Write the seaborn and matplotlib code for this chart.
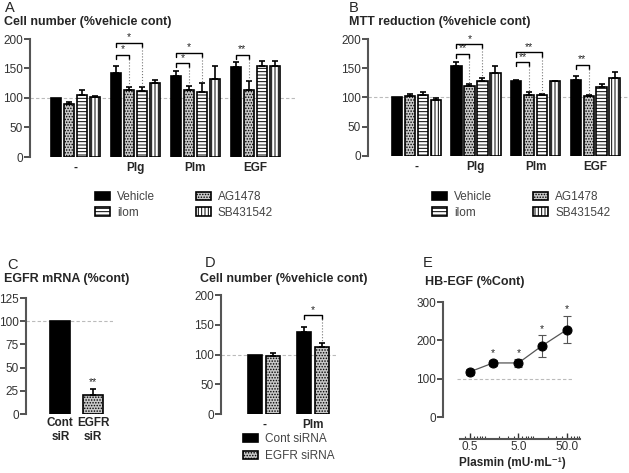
import numpy as np
import pandas as pd
import seaborn as sns
import matplotlib.pyplot as plt
import matplotlib.patches as mpatches
from matplotlib.ticker import FixedLocator, NullFormatter

# ---- data ----
groups = ["-", "Plg", "Plm", "EGF"]
drugs = ["Vehicle", "AG1478", "ilom", "SB431542"]

# panel A, cell number (rows follow drugs)
a_means = [[100, 143, 138, 153], [90, 113, 113, 114], [105, 112, 110, 154], [101, 126, 133, 154]]
a_errs = [[0, 12, 8, 8], [3, 5, 7, 14], [9, 6, 15, 8], [2, 5, 22, 9]]
a_stars = [("Plg", "AG1478", 173, "*"), ("Plg", "ilom", 193, "*"),
           ("Plm", "AG1478", 159, "*"), ("Plm", "ilom", 177, "*"),
           ("EGF", "AG1478", 173, "**")]

# panel B, MTT reduction
b_means = [[100, 154, 128, 130], [102, 120, 105, 102], [104, 129, 104, 118], [96, 142, 128, 133]]
b_errs = [[0, 7, 2, 6], [4, 3, 4, 2], [5, 5, 2, 5], [3, 12, 1, 11]]
b_stars = [("Plg", "AG1478", 175, "**"), ("Plg", "ilom", 191, "*"),
           ("Plm", "AG1478", 160, "**"), ("Plm", "ilom", 177, "**"),
           ("EGF", "AG1478", 156, "**")]

# panel C, EGFR mRNA
c_labels = ["Cont\nsiR", "EGFR\nsiR"]
c_means = [100, 20]
c_errs = [0, 7]

# panel D, cell number with siRNA
d_groups = ["-", "Plm"]
d_sirna = ["Cont siRNA", "EGFR siRNA"]
d_means = [[100, 138], [97, 113]]
d_errs = [[0, 8], [6, 7]]
d_stars = [("Plm", "EGFR siRNA", 166, "*")]

# panel E, HB-EGF vs plasmin
plasmin = [0.5, 1.5, 5.0, 15.0, 50.0]
hb_egf = [118, 141, 141, 185, 228]
hb_err = [8, 8, 10, 28, 36]
hb_stars = ["", "*", "*", "*", "*"]

# ---- style ----
sns.set_theme(style="ticks")
plt.rcParams["font.family"] = ["Liberation Sans", "DejaVu Sans"]
plt.rcParams["hatch.linewidth"] = 0.7

fills = {"Vehicle": ("black", ""), "AG1478": ("#c8c8c8", "......"),
         "ilom": ("white", "-----"), "SB431542": ("white", "|||||"),
         "Cont siRNA": ("black", ""), "EGFR siRNA": ("#c8c8c8", "......")}

TICK_FS = 8.5
TITLE_FS = 9

W, H = 629, 473
fig = plt.figure(figsize=(W / 100, H / 100), dpi=100)


def px_axes(left, right, bottom, top):
    return fig.add_axes([left / W, 1 - bottom / H, (right - left) / W, (bottom - top) / H])


def ftext(x, y, s, **kw):
    fig.text(x / W, 1 - y / H, s, va="center", **kw)


def style_axis(ax, ymax, step):
    sns.despine(ax=ax, bottom=True)
    ax.spines["left"].set_linewidth(1.5)
    ax.spines["left"].set_color("#555555")
    ax.set_ylim(0, ymax)
    ax.set_yticks(range(0, ymax + 1, step))
    ax.tick_params(axis="y", length=4, width=1.2, labelsize=TICK_FS, colors="#333333", pad=1)
    ax.tick_params(axis="x", length=0, labelsize=8.5, pad=3.5)
    for lab in ax.get_xticklabels():
        lab.set_fontweight("bold")
    ax.set_xlabel("")
    ax.set_ylabel("")
    ax.grid(False)
    ax.axhline(100, color="#bbbbbb", lw=0.8, ls=(0, (3, 2)), zorder=0)


def grouped_bars(ax, cats, hues, means, errs, width, gap):
    rows = []
    for h, m in zip(hues, means):
        for c, v in zip(cats, m):
            rows.append({"cat": c, "hue": h, "value": v})
    df = pd.DataFrame(rows)
    sns.barplot(data=df, x="cat", y="value", hue="hue", order=cats, hue_order=hues,
                palette={h: fills[h][0] for h in hues}, width=width, gap=gap,
                errorbar=None, legend=False, edgecolor="black", linewidth=1.2, ax=ax)
    tops = {}
    for h, cont, e in zip(hues, ax.containers, errs):
        color, hatch = fills[h]
        for c, p, err in zip(cats, cont.patches, e):
            p.set_facecolor(color)
            p.set_hatch(hatch)
            x = p.get_x() + p.get_width() / 2
            tops[(c, h)] = (x, p.get_height() + err)
            if err:
                ax.errorbar(x, p.get_height(), yerr=[[0], [err]], fmt="none", ecolor="black",
                            elinewidth=1.2, capsize=2.5, capthick=1.2)
    return tops


def bracket(ax, tops, cat, h1, h2, y, label):
    x1, _ = tops[(cat, h1)]
    x2, t2 = tops[(cat, h2)]
    ax.plot([x1, x1, x2, x2], [y - 7, y, y, y - 7], color="black", lw=1, clip_on=False)
    ax.plot([x2, x2], [y - 7, t2 + 2], color="#777777", lw=0.8, ls=":", clip_on=False)
    ax.text((x1 + x2) / 2, y + 1, label, ha="center", va="bottom", fontsize=7.5)


def legend(handles_order, x, y, colspace, spacing=0.3):
    handles = [mpatches.Patch(facecolor=fills[h][0], hatch=fills[h][1], edgecolor="black",
                              lw=1.2, label=h) for h in handles_order]
    fig.legend(handles=handles, loc="upper left", bbox_to_anchor=(x / W, 1 - y / H),
               ncol=2 if len(handles) > 2 else 1, frameon=False, fontsize=8.5,
               handlelength=1.3, handleheight=0.7, handletextpad=0.6,
               columnspacing=colspace, labelspacing=spacing, borderpad=0,
               borderaxespad=0, labelcolor="#444444")


# ---- A ----
ax = px_axes(30, 295, 157, 39)
tops = grouped_bars(ax, groups, drugs, a_means, a_errs, 0.87, 0.2)
ax.set_xlim(-0.76, 3.66)
style_axis(ax, 200, 50)
for s in a_stars:
    bracket(ax, tops, s[0], "Vehicle", s[1], s[2], s[3])
ftext(5, 8, "A", fontsize=10.5)
ftext(4, 22, "Cell number (%vehicle cont)", fontsize=TITLE_FS, fontweight="bold")
legend(["Vehicle", "ilom", "AG1478", "SB431542"], 95, 191, 3.4)

# ---- B ----
ax = px_axes(368, 628, 156, 39)
tops = grouped_bars(ax, groups, drugs, b_means, b_errs, 0.87, 0.2)
ax.set_xlim(-0.81, 3.55)
style_axis(ax, 200, 50)
for s in b_stars:
    bracket(ax, tops, s[0], "Vehicle", s[1], s[2], s[3])
ftext(349, 8, "B", fontsize=10.5)
ftext(349, 22, "MTT reduction (%vehicle cont)", fontsize=TITLE_FS, fontweight="bold")
legend(["Vehicle", "ilom", "AG1478", "SB431542"], 432, 191, 3.4)

# ---- C ----
ax = px_axes(26, 113, 414, 298)
sns.barplot(x=c_labels, y=c_means, hue=c_labels,
            palette={c_labels[0]: "black", c_labels[1]: fills["EGFR siRNA"][0]},
            width=0.62, errorbar=None, legend=False, edgecolor="black", linewidth=1.2, ax=ax)
ax.set_xlim(-1.05, 1.61)
style_axis(ax, 125, 25)
for p, err in zip([c.patches[0] for c in ax.containers], c_errs):
    if p.get_facecolor()[0] > 0.5:
        p.set_hatch(fills["EGFR siRNA"][1])
    if err:
        x = p.get_x() + p.get_width() / 2
        ax.errorbar(x, p.get_height(), yerr=[[0], [err]], fmt="none", ecolor="black",
                    elinewidth=1.2, capsize=2.5, capthick=1.2)
        ax.text(x, p.get_height() + err + 2, "**", ha="center", va="bottom", fontsize=7.5)
ax.tick_params(axis="x", pad=2)
ftext(7, 265, "C", fontsize=10.5)
ftext(4, 279, "EGFR mRNA (%cont)", fontsize=TITLE_FS, fontweight="bold")

# ---- D ----
ax = px_axes(221, 337, 414, 295)
tops = grouped_bars(ax, d_groups, d_sirna, d_means, d_errs, 0.76, 0.24)
ax.set_xlim(-0.89, 1.5)
style_axis(ax, 200, 50)
for s in d_stars:
    bracket(ax, tops, s[0], "Cont siRNA", s[1], s[2], s[3])
ftext(205, 263, "D", fontsize=10.5)
ftext(200, 279, "Cell number (%vehicle cont)", fontsize=TITLE_FS, fontweight="bold")
legend(d_sirna, 243, 433, 1.0, spacing=0.45)

# ---- E ----
ax = px_axes(443, 582, 417, 302)
ax.errorbar(plasmin, hb_egf, yerr=hb_err, fmt="none", ecolor="#555555", elinewidth=0.8,
            capsize=3, capthick=0.8, zorder=1)
sns.lineplot(x=plasmin, y=hb_egf, color="#555555", lw=0.9, marker="o", markersize=6.5,
             markerfacecolor="black", markeredgecolor="black", zorder=3, ax=ax)
for x, y, e, s in zip(plasmin, hb_egf, hb_err, hb_stars):
    ax.text(x, y + e + 4, s, ha="center", va="bottom", fontsize=7.5)
ax.set_xscale("log")
ax.set_xlim(0.139, 102)
ax.set_ylim(0, 300)
ax.set_yticks([0, 100, 200, 300])
ax.hlines(100, 0.27, 63, color="#bbbbbb", lw=0.8, ls=(0, (3, 2)), zorder=0)
sns.despine(ax=ax)
for side in ["left", "bottom"]:
    ax.spines[side].set_linewidth(1.5)
    ax.spines[side].set_color("#555555")
ax.spines["bottom"].set_position(("outward", 16))
ax.spines["bottom"].set_bounds(0.31, 93)
ax.xaxis.set_major_locator(FixedLocator([0.5, 5, 50]))
ax.set_xticklabels(["0.5", "5.0", "50.0"])
minor = [m * 10.0 ** k for k in (-1, 0, 1) for m in range(1, 10) if 0.31 <= m * 10.0 ** k <= 93]
ax.xaxis.set_minor_locator(FixedLocator(minor))
ax.xaxis.set_minor_formatter(NullFormatter())
ax.tick_params(axis="x", which="major", direction="in", length=4, width=1, labelsize=TICK_FS,
               colors="#333333", pad=1.5)
ax.tick_params(axis="x", which="minor", direction="in", length=2, width=0.8, colors="#333333")
ax.tick_params(axis="y", length=4, width=1.2, labelsize=TICK_FS, colors="#333333", pad=1)
ax.grid(False)
ax.set_xlabel("Plasmin (mU·mL⁻¹)", fontsize=8.5, fontweight="bold", labelpad=3)
ax.set_ylabel("")
ftext(423, 263, "E", fontsize=10.5)
ftext(425, 282, "HB-EGF (%Cont)", fontsize=TITLE_FS, fontweight="bold")

fig.savefig("out.png", dpi=100)
